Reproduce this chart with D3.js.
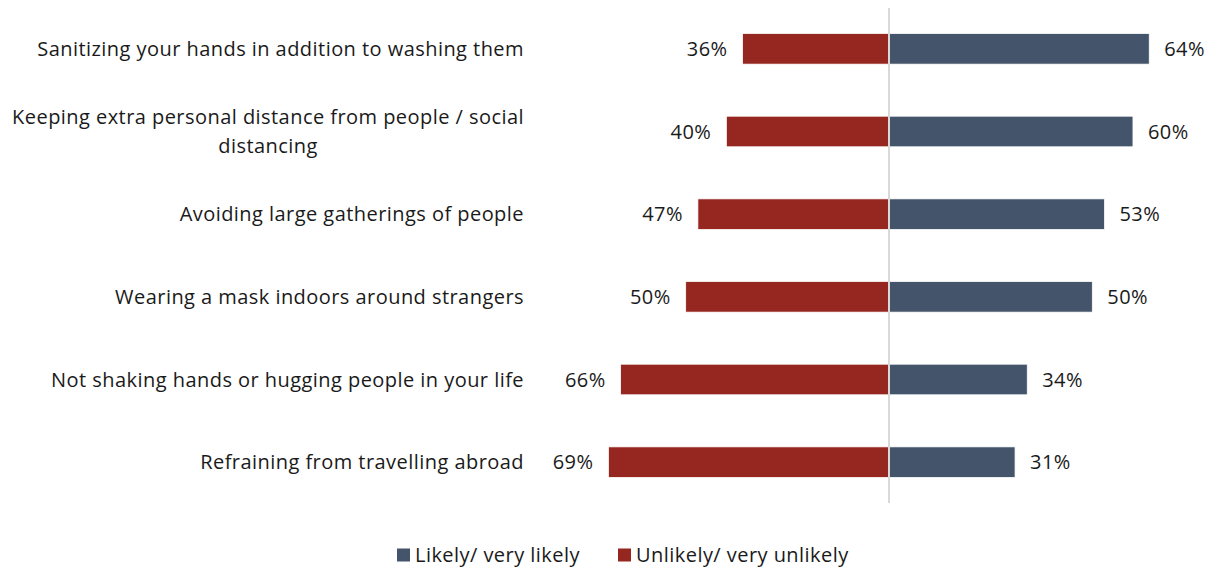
<!DOCTYPE html>
<html>
<head>
<meta charset="utf-8">
<script src="https://cdn.jsdelivr.net/npm/d3@7"></script>
<style>
  html, body { margin: 0; padding: 0; background: #fff; }
  svg { display: block; font-family: "Open Sans", Lato, sans-serif; }
  svg text { letter-spacing: 0.45px; }
</style>
</head>
<body>
<svg id="chart" width="1212" height="569"></svg>
<script>
// Survey items (top to bottom); multi-line labels split into lines
const categories = [
  ["Sanitizing your hands in addition to washing them"],
  ["Keeping extra personal distance from people / social", "distancing"],
  ["Avoiding large gatherings of people"],
  ["Wearing a mask indoors around strangers"],
  ["Not shaking hands or hugging people in your life"],
  ["Refraining from travelling abroad"]
];
const likely = [64, 60, 53, 50, 34, 31];
const unlikely = [36, 40, 47, 50, 66, 69];
const seriesNames = ["Likely/ very likely", "Unlikely/ very unlikely"];
const colors = ["#44546A", "#952620"];

const svg = d3.select("#chart");
const centerX = 889;
const pxPerPct = 4.066;

// Diverging horizontal scale: negative = unlikely (left), positive = likely (right)
const x = d3.scaleLinear()
  .domain([-100, 100])
  .range([centerX - 100 * pxPerPct, centerX + 100 * pxPerPct]);

const y = d3.scaleBand()
  .domain(d3.range(categories.length))
  .range([7.5, 503.5])
  .paddingInner(0.63)
  .paddingOuter(0.315);

const bh = y.bandwidth();

// Unlikely bars (left)
svg.append("g").selectAll("rect")
  .data(unlikely)
  .join("rect")
  .attr("x", d => x(-d))
  .attr("y", (d, i) => y(i))
  .attr("width", d => x(0) - x(-d))
  .attr("height", bh)
  .attr("fill", colors[1])
  .attr("stroke", "#fff")
  .attr("stroke-width", 0.75);

// Likely bars (right)
svg.append("g").selectAll("rect")
  .data(likely)
  .join("rect")
  .attr("x", x(0))
  .attr("y", (d, i) => y(i))
  .attr("width", d => x(d) - x(0))
  .attr("height", bh)
  .attr("fill", colors[0])
  .attr("stroke", "#fff")
  .attr("stroke-width", 0.75);

// Central zero axis
svg.append("line")
  .attr("x1", x(0)).attr("x2", x(0))
  .attr("y1", 8).attr("y2", 503)
  .attr("stroke", "#d9d9d9")
  .attr("stroke-width", 2);

// Value labels
const fontSize = 20;
svg.append("g").selectAll("text")
  .data(unlikely)
  .join("text")
  .attr("x", d => x(-d) - 15)
  .attr("y", (d, i) => y(i) + bh / 2)
  .attr("dy", "0.35em")
  .attr("text-anchor", "end")
  .attr("font-size", fontSize)
  .attr("fill", "#1a1a1a")
  .text(d => d + "%");

svg.append("g").selectAll("text")
  .data(likely)
  .join("text")
  .attr("x", d => x(d) + 15)
  .attr("y", (d, i) => y(i) + bh / 2)
  .attr("dy", "0.35em")
  .attr("text-anchor", "start")
  .attr("font-size", fontSize)
  .attr("fill", "#1a1a1a")
  .text(d => d + "%");

// Category labels, right-aligned; wrapped lines centred under the first line
const labelRight = 524;
const lineH = 29;
const catG = svg.append("g");
categories.forEach((lines, i) => {
  const cy = y(i) + bh / 2;
  const t0 = cy - (lines.length - 1) * lineH / 2;
  const first = catG.append("text")
    .attr("x", labelRight)
    .attr("y", t0)
    .attr("dy", "0.35em")
    .attr("text-anchor", "end")
    .attr("font-size", fontSize)
    .attr("fill", "#1a1a1a")
    .text(lines[0]);
  if (lines.length > 1) {
    const w = first.node().getComputedTextLength();
    const mid = labelRight - w / 2;
    lines.slice(1).forEach((ln, k) => {
      catG.append("text")
        .attr("x", mid)
        .attr("y", t0 + (k + 1) * lineH)
        .attr("dy", "0.35em")
        .attr("text-anchor", "middle")
        .attr("font-size", fontSize)
        .attr("fill", "#1a1a1a")
        .text(ln);
    });
  }
});

// Legend
const legendY = 555;
const legendItems = [
  { name: seriesNames[0], color: colors[0], x: 397 },
  { name: seriesNames[1], color: colors[1], x: 618 }
];
const lg = svg.append("g").selectAll("g")
  .data(legendItems)
  .join("g")
  .attr("transform", d => `translate(${d.x},${legendY})`);
lg.append("rect")
  .attr("x", 0).attr("y", -6.5)
  .attr("width", 13).attr("height", 13)
  .attr("fill", d => d.color);
lg.append("text")
  .attr("x", 18)
  .attr("y", 0)
  .attr("dy", "0.35em")
  .attr("font-size", fontSize)
  .attr("fill", "#1a1a1a")
  .text(d => d.name);
</script>
</body>
</html>
